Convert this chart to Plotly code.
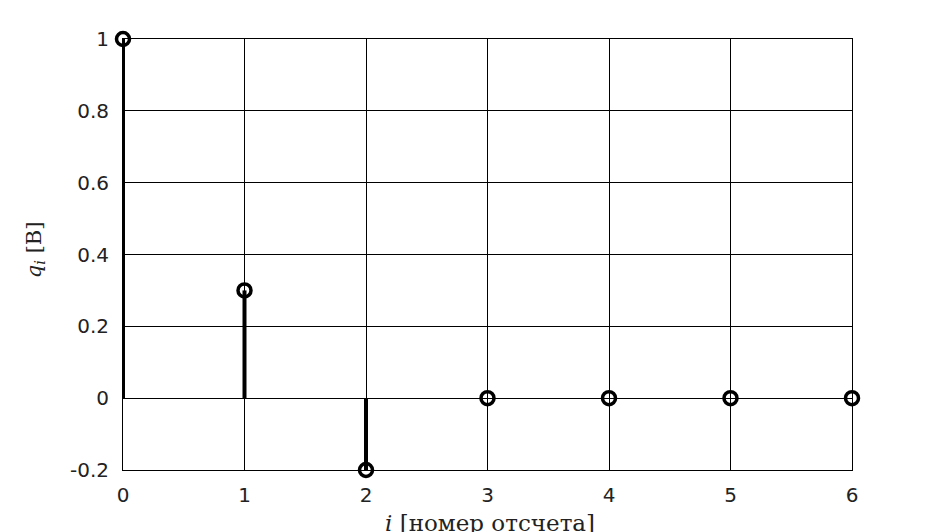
import plotly.graph_objects as go

i_vals = [0, 1, 2, 3, 4, 5, 6]
q_vals = [1.0, 0.3, -0.2, 0.0, 0.0, 0.0, 0.0]
x_ticks = [0, 1, 2, 3, 4, 5, 6]
y_ticks = [-0.2, 0, 0.2, 0.4, 0.6, 0.8, 1]
y_tick_text = ["-0.2", "0", "0.2", "0.4", "0.6", "0.8", "1"]

stem_x, stem_y = [], []
for xi, qi in zip(i_vals, q_vals):
    stem_x += [xi, xi, None]
    stem_y += [0, qi, None]

OFF = 8  # page body margin
W, H = 940, 532
L, T = 123 - OFF, 39 - OFF
R = W - (852 - OFF)
B = H - (470 - OFF)
pw, ph = W - L - R, H - T - B

fig = go.Figure()
fig.add_trace(go.Scatter(x=stem_x, y=stem_y, mode="lines",
                         line=dict(color="black", width=4), cliponaxis=False,
                         showlegend=False, hoverinfo="skip"))
fig.add_trace(go.Scatter(x=i_vals, y=q_vals, mode="markers",
                         marker=dict(symbol="circle-open", size=13, color="black",
                                     line=dict(width=3.5, color="black")),
                         cliponaxis=False, showlegend=False))

fig.update_layout(
    width=W, height=H,
    margin=dict(l=L, r=R, t=T, b=B, autoexpand=False),
    paper_bgcolor="white", plot_bgcolor="white",
    font=dict(family="DejaVu Sans", color="black", size=20),
    annotations=[
        dict(text="<i>q</i><sub><i>i</i></sub> [В]", xref="paper", yref="paper",
             x=(35 - OFF - L) / pw, y=0.51, xanchor="center", yanchor="middle",
             textangle=-90, showarrow=False,
             font=dict(family="DejaVu Serif", size=21, color="#222")),
        dict(text="<i>i</i> [номер отсчета]", xref="paper", yref="paper",
             x=(490 - OFF - L) / pw, y=-(523 - 470) / ph, xanchor="center", yanchor="middle",
             showarrow=False,
             font=dict(family="DejaVu Serif", size=23, color="#222")),
    ],
)
fig.update_xaxes(range=[0, 6], tickvals=x_ticks, ticks="outside", ticklen=0,
                 ticklabelstandoff=7, showgrid=True, automargin=False,
                 gridcolor="black", gridwidth=1, zeroline=False,
                 showline=True, linecolor="black", linewidth=1, mirror=True,
                 tickfont=dict(family="DejaVu Sans", size=20, color="#222"))
fig.update_yaxes(range=[-0.2, 1], tickvals=y_ticks, ticktext=y_tick_text,
                 ticks="outside", ticklen=0, ticklabelstandoff=9, automargin=False,
                 showgrid=True, gridcolor="black", gridwidth=1, zeroline=False,
                 showline=True, linecolor="black", linewidth=1, mirror=True,
                 tickfont=dict(family="DejaVu Sans", size=20, color="#222"))

fig.write_html("out.html")
